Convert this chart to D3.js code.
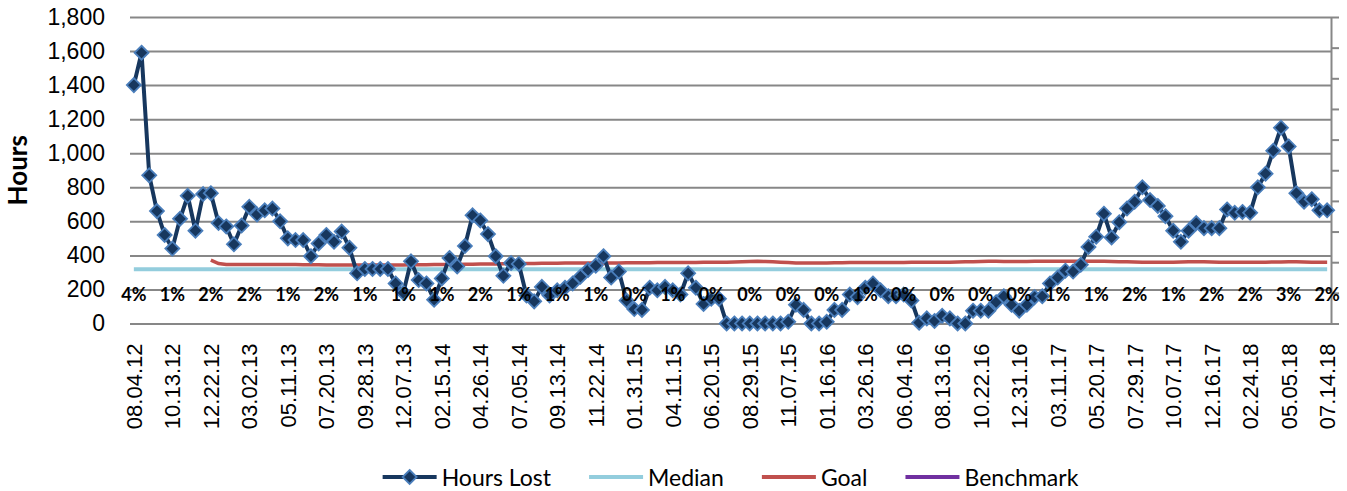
<!DOCTYPE html>
<html>
<head>
<meta charset="utf-8">
<script src="https://cdn.jsdelivr.net/npm/d3@7"></script>
<style>
  body { margin: 0; background: #fff; }
  svg { display: block; font-family: Lato, "Open Sans", sans-serif; }
</style>
</head>
<body>
<div id="chart"></div>
<script>
// biweekly hours lost, 08.04.12 -> 07.14.18
const hoursLost = [
  1400, 1590, 870, 660, 520, 440, 615, 750, 545, 760,
  765, 590, 570, 465, 575, 685, 640, 665, 675, 600,
  500, 490, 490, 395, 470, 520, 480, 540, 445, 295,
  320, 320, 320, 320, 235, 180, 365, 255, 235, 140,
  265, 385, 335, 455, 635, 605, 525, 395, 280, 355,
  350, 165, 130, 215, 165, 195, 210, 235, 275, 315,
  340, 395, 270, 305, 135, 85, 80, 210, 195, 215,
  195, 170, 295, 210, 115, 145, 145, 0, 0, 0,
  0, 0, 0, 0, 0, 10, 110, 80, 0, 0,
  10, 80, 80, 170, 155, 210, 235, 195, 160, 160,
  170, 135, 5, 30, 15, 45, 30, 0, 0, 75,
  75, 75, 125, 160, 110, 75, 110, 155, 160, 235,
  270, 310, 305, 345, 450, 510, 645, 505, 595, 675,
  715, 800, 725, 690, 630, 545, 480, 545, 590, 560,
  560, 560, 670, 650, 655, 650, 800, 880, 1015, 1150,
  1040, 765, 715, 730, 665, 665
];

const medianValue = 318;

// goal starts at the 11th period
const goal = [
  null, null, null, null, null, null, null, null, null, null,
  372, 352, 347, 346, 346, 347, 347, 347, 347, 346,
  346, 346, 345, 345, 345, 344, 344, 344, 343, 343,
  343, 343, 343, 344, 344, 344, 345, 345, 345, 346,
  346, 347, 347, 348, 348, 349, 350, 350, 351, 352,
  352, 353, 353, 354, 354, 354, 355, 355, 355, 356,
  356, 356, 356, 356, 357, 357, 357, 357, 358, 358,
  358, 358, 358, 358, 359, 359, 359, 360, 361, 362,
  364, 365, 364, 362, 360, 358, 356, 355, 355, 355,
  356, 357, 357, 358, 358, 358, 358, 358, 358, 358,
  358, 359, 359, 359, 360, 360, 360, 361, 362, 363,
  364, 365, 365, 364, 364, 364, 364, 365, 365, 365,
  366, 366, 366, 366, 366, 366, 365, 364, 363, 362,
  361, 360, 360, 360, 360, 360, 361, 362, 362, 362,
  361, 360, 360, 359, 359, 359, 360, 360, 361, 361,
  362, 362, 361, 360, 360, 360
];

const benchmark = [];

const tickLabels = [
  "08.04.12", "10.13.12", "12.22.12", "03.02.13", "05.11.13", "07.20.13", "09.28.13", "12.07.13",
  "02.15.14", "04.26.14", "07.05.14", "09.13.14", "11.22.14", "01.31.15", "04.11.15", "06.20.15",
  "08.29.15", "11.07.15", "01.16.16", "03.26.16", "06.04.16", "08.13.16", "10.22.16", "12.31.16",
  "03.11.17", "05.20.17", "07.29.17", "10.07.17", "12.16.17", "02.24.18", "05.05.18", "07.14.18"
];

const pctLabels = [
  "4%", "1%", "2%", "2%", "1%", "2%", "1%", "1%",
  "1%", "2%", "1%", "1%", "1%", "0%", "1%", "0%",
  "0%", "0%", "0%", "1%", "0%", "0%", "0%", "0%",
  "1%", "1%", "2%", "1%", "2%", "2%", "3%", "2%"
];

const yTicks = [0, 200, 400, 600, 800, 1000, 1200, 1400, 1600, 1800];

const series = [
  { name: "Hours Lost", color: "#17375E", marker: true },
  { name: "Median", color: "#93CDDD" },
  { name: "Goal", color: "#C0504D" },
  { name: "Benchmark", color: "#7030A0" }
];

const W = 1347, H = 491;
const plot = { left: 130, right: 1331, top: 17, bottom: 323.5 };
const labelStep = 5;

let svg = d3.select("#chart").append("svg")
  .attr("width", W)
  .attr("height", H);

let idx = d3.range(hoursLost.length);

let x = d3.scalePoint()
  .domain(idx)
  .range([plot.left, plot.right])
  .padding(0.5);

let y = d3.scaleLinear()
  .domain([0, 1800])
  .range([plot.bottom, plot.top]);

// gridlines + left labels
let yAxis = svg.append("g")
  .attr("transform", `translate(${plot.left},0)`)
  .call(d3.axisLeft(y)
    .tickValues(yTicks)
    .tickSize(-(plot.right - plot.left))
    .tickPadding(25)
    .tickFormat(d3.format(",")));
yAxis.select(".domain").remove();
yAxis.selectAll("line").attr("stroke", "#878787").attr("stroke-width", 2);
yAxis.selectAll("text")
  .style("font-size", "23px")
  .attr("fill", "#000");

// secondary axis on the right, ticks only
let y2 = d3.scaleLinear().domain([0, 1]).range([plot.bottom, plot.top]);
let rAxis = svg.append("g")
  .attr("transform", `translate(${plot.right},0)`)
  .call(d3.axisRight(y2).ticks(10).tickSize(8).tickSizeOuter(0).tickFormat(""));
rAxis.select(".domain").attr("stroke", "#878787").attr("stroke-width", 2);
rAxis.selectAll("line").attr("stroke", "#878787").attr("stroke-width", 2);

// category labels
let xAxis = svg.append("g")
  .attr("transform", `translate(0,${plot.bottom})`)
  .call(d3.axisBottom(x)
    .tickValues(idx.filter(i => i % labelStep === 0))
    .tickSize(0)
    .tickFormat(i => tickLabels[i / labelStep]));
xAxis.select(".domain").remove();
xAxis.selectAll("text")
  .style("font-size", "22px")
  .attr("fill", "#000")
  .attr("text-anchor", "end")
  .attr("dominant-baseline", "central")
  .attr("transform", "rotate(-90)")
  .attr("x", -20)
  .attr("y", 0)
  .attr("dy", 0);

// axis title
svg.append("text")
  .attr("transform", `translate(27,${(plot.top + plot.bottom) / 2}) rotate(-90)`)
  .attr("text-anchor", "middle")
  .style("font-size", "26px")
  .style("font-weight", "bold")
  .text("Hours");

// median
svg.append("path")
  .datum(idx)
  .attr("fill", "none")
  .attr("stroke", series[1].color)
  .attr("stroke-width", 4)
  .attr("d", d3.line().x(i => x(i)).y(() => y(medianValue)));

// goal
svg.append("path")
  .datum(idx)
  .attr("fill", "none")
  .attr("stroke", series[2].color)
  .attr("stroke-width", 3.5)
  .attr("d", d3.line()
    .defined(i => goal[i] != null)
    .x(i => x(i))
    .y(i => y(goal[i])));

// hours lost
svg.append("path")
  .datum(idx)
  .attr("fill", "none")
  .attr("stroke", series[0].color)
  .attr("stroke-width", 4)
  .attr("stroke-linejoin", "round")
  .attr("d", d3.line().x(i => x(i)).y(i => y(hoursLost[i])));

const diamond = r => `M0,${-r}L${r},0L0,${r}L${-r},0Z`;

svg.append("g")
  .selectAll("path")
  .data(idx)
  .enter()
  .append("path")
  .attr("transform", i => `translate(${x(i)},${y(hoursLost[i])})`)
  .attr("d", diamond(7))
  .attr("fill", "#17375E")
  .attr("stroke", "#4A7EBB")
  .attr("stroke-width", 1.8);

// percent labels every 5th period
svg.append("g")
  .selectAll("text")
  .data(pctLabels)
  .enter()
  .append("text")
  .attr("x", (d, k) => x(k * labelStep))
  .attr("y", y(173))
  .attr("text-anchor", "middle")
  .attr("dominant-baseline", "central")
  .style("font-size", "18px")
  .style("font-weight", "bold")
  .text(d => d);

// legend
const legendGap = 38;
let legend = svg.append("g");
let lx = 0;
series.forEach(s => {
  let g = legend.append("g").attr("transform", `translate(${lx},0)`);
  g.append("line")
    .attr("x1", 0).attr("x2", 54)
    .attr("stroke", s.color)
    .attr("stroke-width", 4);
  if (s.marker) {
    g.append("path")
      .attr("transform", "translate(27,0)")
      .attr("d", diamond(7))
      .attr("fill", "#17375E")
      .attr("stroke", "#4A7EBB")
      .attr("stroke-width", 1.8);
  }
  let t = g.append("text")
    .attr("x", 59)
    .attr("dominant-baseline", "central")
    .style("font-size", "23px")
    .text(s.name);
  lx += 59 + t.node().getComputedTextLength() + legendGap;
});
lx -= legendGap;
legend.attr("transform", `translate(${(plot.left + plot.right) / 2 - lx / 2},477)`);
</script>
</body>
</html>
